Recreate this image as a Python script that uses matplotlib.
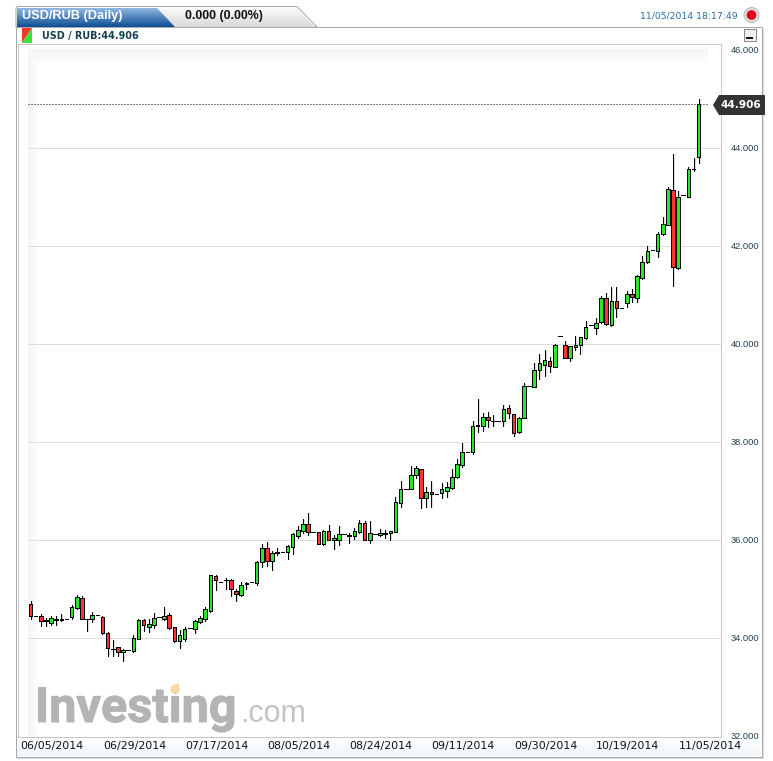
import numpy as np
import matplotlib
matplotlib.use("Agg")
from matplotlib import pyplot as plt
from matplotlib.patches import Polygon, Rectangle, Circle
import matplotlib.patheffects as pe

# daily candles: high, body top, body bottom, low
highs = [34.77,34.46,34.50,34.41,34.45,34.45,34.50,34.39,34.68,34.88,34.87,34.39,34.54,34.48,34.46,34.14,33.97,33.82,33.78,33.76,
         34.07,34.39,34.39,34.39,34.52,34.43,34.64,34.52,34.23,34.18,34.24,34.21,34.38,34.45,34.65,35.30,35.29,35.15,35.23,35.21,
         35.01,35.16,35.16,35.15,35.59,35.93,35.96,35.78,35.84,35.76,35.91,36.15,36.30,36.44,36.56,36.17,36.17,36.22,36.31,36.12,
         36.30,36.13,36.15,36.25,36.42,36.39,36.39,36.14,36.23,36.22,36.20,36.89,37.21,37.06,37.52,37.52,37.46,37.10,37.21,36.94,
         37.17,37.20,37.45,37.66,37.98,37.80,38.44,38.88,38.61,38.63,38.56,38.43,38.76,38.76,38.59,38.53,39.21,39.15,39.62,39.81,
         39.89,39.74,40.01,40.17,40.07,39.97,40.17,40.16,40.48,40.39,40.55,40.99,41.06,41.17,41.17,40.74,41.09,41.13,41.42,41.81,
         42.02,41.92,42.30,42.61,43.22,43.88,43.13,43.06,43.63,43.80,45.01]
body_top = [34.70,34.45,34.45,34.37,34.41,34.39,34.39,34.39,34.64,34.85,34.82,34.39,34.47,34.48,34.43,34.11,33.79,33.82,33.76,33.76,
            34.00,34.37,34.37,34.29,34.41,34.43,34.45,34.48,34.23,34.07,34.19,34.21,34.35,34.41,34.60,35.29,35.27,35.15,35.19,35.19,
            34.97,35.10,35.14,35.15,35.56,35.84,35.84,35.74,35.76,35.76,35.88,36.13,36.21,36.33,36.33,36.17,36.17,36.20,36.19,36.05,
            36.13,36.13,36.12,36.19,36.35,36.35,36.15,36.14,36.15,36.16,36.19,36.78,37.06,37.06,37.33,37.47,37.45,36.98,36.98,36.94,
            37.06,37.10,37.30,37.57,37.80,37.80,38.34,38.35,38.53,38.53,38.44,38.43,38.68,38.70,38.59,38.49,39.15,39.15,39.48,39.62,
            39.68,39.67,40.00,40.17,39.98,39.96,39.98,40.15,40.36,40.39,40.43,40.94,40.94,40.88,40.88,40.74,41.04,41.04,41.39,41.69,
            41.91,41.92,42.25,42.45,43.18,43.16,43.02,43.06,43.59,43.59,44.90]
body_bot = [34.45,34.45,34.36,34.36,34.32,34.37,34.38,34.39,34.43,34.62,34.39,34.39,34.39,34.48,34.11,33.81,33.78,33.73,33.72,33.76,
            33.74,33.99,34.28,34.24,34.28,34.43,34.39,34.22,33.94,33.94,34.00,34.21,34.20,34.33,34.39,34.57,35.19,35.15,35.19,35.01,
            34.90,34.89,35.11,35.15,35.13,35.56,35.58,35.58,35.75,35.76,35.76,35.86,36.10,36.20,36.17,36.17,35.93,35.92,36.01,36.01,
            36.02,36.13,36.09,36.09,36.17,36.02,36.01,36.14,36.12,36.14,36.15,36.18,36.77,37.06,37.06,37.34,36.86,36.86,36.95,36.94,
            36.96,37.02,37.08,37.29,37.55,37.80,37.80,38.34,38.34,38.45,38.43,38.43,38.44,38.61,38.19,38.22,38.51,39.15,39.14,39.47,
            39.59,39.57,39.55,40.17,39.73,39.72,39.94,39.98,40.13,40.39,40.34,40.45,40.41,40.39,40.75,40.74,40.84,40.96,40.94,41.35,
            41.68,41.92,41.91,42.25,42.43,41.59,41.57,43.06,43.02,43.58,43.82]
lows = [34.39,34.45,34.26,34.26,34.28,34.28,34.35,34.39,34.40,34.60,34.39,34.16,34.33,34.48,34.09,33.64,33.65,33.64,33.55,33.76,
        33.72,33.99,34.16,34.14,34.22,34.43,34.38,34.20,33.93,33.80,33.94,34.21,34.11,34.31,34.36,34.55,34.98,35.15,35.01,34.86,
        34.77,34.86,35.02,35.15,35.10,35.45,35.48,35.40,35.71,35.76,35.63,35.73,36.06,36.15,36.12,36.17,35.92,35.91,36.00,35.83,
        35.90,36.13,35.94,36.03,36.16,36.01,35.95,36.14,36.10,36.05,36.01,36.18,36.69,37.06,37.06,37.27,36.66,36.69,36.68,36.94,
        36.86,36.89,37.05,37.27,37.51,37.80,37.76,38.21,38.24,38.31,38.34,38.43,38.34,38.49,38.14,38.19,38.51,39.15,39.13,39.30,
        39.36,39.43,39.55,40.17,39.72,39.66,39.89,39.80,40.11,40.39,40.21,40.43,40.40,40.38,40.57,40.74,40.76,40.87,40.87,41.34,
        41.67,41.92,41.78,42.23,42.43,41.20,41.55,43.06,43.02,43.55,43.71]
# candles drawn in red
down_days = [0,2,10,14,15,17,22,27,28,36,39,40,46,54,56,58,62,65,76,78,89,93,94,101,104,112,114,117,125]

y_ticks = [32,34,36,38,40,42,44,46]
x_labels = ["06/05/2014","06/29/2014","07/17/2014","08/05/2014","08/24/2014",
            "09/11/2014","09/30/2014","10/19/2014","11/05/2014"]
last_price = 44.906

W, H = 773, 761
PX = 0.72  # one pixel line width at dpi 100
fig = plt.figure(figsize=(W/100, H/100), dpi=100, facecolor="white")

# page chrome, drawn in pixel coordinates
bg = fig.add_axes([0, 0, 1, 1])
bg.set_xlim(0, W); bg.set_ylim(H, 0); bg.axis("off")

def grad(ax, x0, x1, y0, y1, c0, c1, clip=None, z=1):
    c0 = np.array(matplotlib.colors.to_rgb(c0)); c1 = np.array(matplotlib.colors.to_rgb(c1))
    t = np.linspace(0, 1, 32)[:, None]
    img = (c0*(1-t) + c1*t)[:, None, :]
    im = ax.imshow(img, extent=[x0, x1, y1, y0], aspect="auto", zorder=z, interpolation="bilinear")
    if clip is not None:
        im.set_clip_path(clip)

# soft shadow and panel
bg.add_patch(Rectangle((17, 29), 747, 730, fc="#dddddd", ec="none", zorder=0))
bg.add_patch(Rectangle((15.5, 26.5), 746.5, 730.5, fc="white", ec="#a8a8a8", lw=PX, zorder=1))
grad(bg, 17, 761, 737, 756, "#ffffff", "#f0f6fb", z=1.1)

# tabs
tab_pts = [(16, 27), (16, 8), (18, 6.5), (297, 6.5), (317, 27)]
bg.add_patch(Polygon(tab_pts, closed=True, fc="white", ec="#a8a8a8", lw=PX, zorder=1.5))
p = Polygon([(17, 27), (17, 8), (297, 8), (315, 27)], closed=True, transform=bg.transData, fc="none", ec="none")
bg.add_patch(p)
grad(bg, 17, 316, 8, 27, "#fbfbfb", "#d8d8d8", clip=p, z=2)
p2 = Polygon([(17, 27), (17, 8), (157, 8), (175, 27)], closed=True, transform=bg.transData, fc="none", ec="none")
bg.add_patch(p2)
grad(bg, 17, 175, 8, 27, "#8fb6e0", "#0e4f96", clip=p2, z=2.1)
bg.set_xlim(0, W); bg.set_ylim(H, 0)

bg.text(22, 16.5, "USD/RUB (Daily)", color="white", fontsize=9.2, family="Liberation Sans", fontweight="bold",
        va="center", zorder=3)
bg.text(185, 16.5, "0.000 (0.00%)", color="#111111", fontsize=8.9, family="Liberation Sans", fontweight="bold",
        va="center", zorder=3)
bg.text(738, 16, "11/05/2014 18:17:49", color="#2a6ca8", fontsize=6.7, family="DejaVu Sans", ha="right",
        va="center", zorder=3)
bg.add_patch(Circle((751.5, 15), 7.5, fc="#dcdcdc", ec="#bbbbbb", lw=PX, zorder=3))
bg.add_patch(Circle((751.5, 15), 4.8, fc="#e2001a", ec="none", zorder=3.1))

# legend row
bg.add_patch(Polygon([(22, 28), (32, 28), (22, 43)], closed=True, fc="#f0392b", ec="none", zorder=3))
bg.add_patch(Polygon([(32, 28), (32, 43), (22, 43)], closed=True, fc="#3ee23a", ec="none", zorder=3))
bg.text(42, 35.5, "USD / RUB:44.906", color="#15404f", fontsize=6.9, family="DejaVu Sans", fontweight="bold",
        va="center", zorder=3)
bg.add_patch(Rectangle((743.5, 29), 12, 12, fc="#eeeeee", ec="#888888", lw=PX, zorder=3))
bg.add_patch(Rectangle((746, 37), 7, 1.6, fc="#111111", ec="none", zorder=3.1))

# plot area
ax = fig.add_axes([18/W, 1-736.5/H, (721-18)/W, (736.5-44)/H], facecolor="white")
x_lim = ((18-30.5)/5.14, (721-30.5)/5.14)
y_lim = (32, 32+692.5/49)
for s in ["left", "right", "top", "bottom"]:
    ax.spines[s].set_color("#c8c8c8"); ax.spines[s].set_linewidth(PX)

# faint gradient along the left and top of the inner area
left_x = (28-30.5)/5.14
right_x = (707-30.5)/5.14
ramp_x = np.clip(np.arange(680)/12.0, 0, 1)
ramp_y = np.clip(np.arange(686)/16.0, 0, 1)
shade = 1 - 0.045*(1-np.minimum.outer(ramp_y, ramp_x))
ax.imshow(shade, extent=[left_x, right_x, 32, 32+686/49], cmap="gray", vmin=0, vmax=1,
          aspect="auto", zorder=0.2)
ax.set_xlim(x_lim); ax.set_ylim(y_lim)

ax.text((35-30.5)/5.14, 32+(736.5-722)/49, "Investing", color="#b4b4b4", fontsize=35, family="Roboto", fontweight="bold",
        va="baseline", zorder=0.5, path_effects=[pe.withStroke(linewidth=0.7, foreground="#b4b4b4")])
ax.text((240-30.5)/5.14, 32+(736.5-722)/49, ".com", color="#c4c4c4", fontsize=22, family="Liberation Sans",
        va="baseline", zorder=0.5)

ax.hlines(y_ticks[1:-1], left_x, x_lim[1], color="#dcdcdc", lw=PX, zorder=1, antialiased=False)
ax.hlines(last_price, left_x, right_x, color="#808080", lw=PX, linestyles=(0, (2, 2)), zorder=1.2, antialiased=False)

idx = np.arange(len(highs))
colors = ["#ff3333" if i in down_days else "#28e828" for i in idx]
ax.vlines(idx+0.2, lows, highs, color="#bbbbbb", lw=PX, alpha=0.5, zorder=2)
ax.vlines(idx, lows, highs, color="black", lw=PX, zorder=3, antialiased=False)
heights = np.array(body_top) - np.array(body_bot)
ax.bar(idx, heights, bottom=body_bot, width=0.7, color=colors, edgecolor="black", linewidth=PX, zorder=4, antialiased=False)

ax.set_yticks(y_ticks)
ax.set_yticklabels(["%.3f" % v for v in y_ticks], color="#21414f", fontsize=6.7, family="Liberation Sans", va="center")
ax.yaxis.tick_right()
ax.tick_params(axis="y", length=0, pad=7)
ax.set_xticks([4.2+16*k for k in range(len(x_labels))])
ax.set_xticklabels(x_labels, color="#111111", fontsize=7.9, family="DejaVu Sans")
ax.tick_params(axis="x", length=0, pad=3)
ax.set_xlim(x_lim); ax.set_ylim(y_lim)

# last price tag and the logo's accent on top of everything
top = fig.add_axes([0, 0, 1, 1], facecolor="none")
top.set_xlim(0, W); top.set_ylim(H, 0); top.axis("off")
top.add_patch(Polygon([(713, 105), (719, 95), (765, 95), (765, 115), (719, 115)], closed=True, fc="#333333", ec="none"))
top.text(740.5, 104.5, "%.3f" % last_price, color="white", fontsize=7.6, family="DejaVu Sans", fontweight="bold",
         ha="center", va="center")
top.add_patch(Polygon([(171, 686), (179, 683), (179, 693), (171, 693)], closed=True, fc="#f9d9a0", ec="none"))

fig.savefig("out.png", dpi=100)
